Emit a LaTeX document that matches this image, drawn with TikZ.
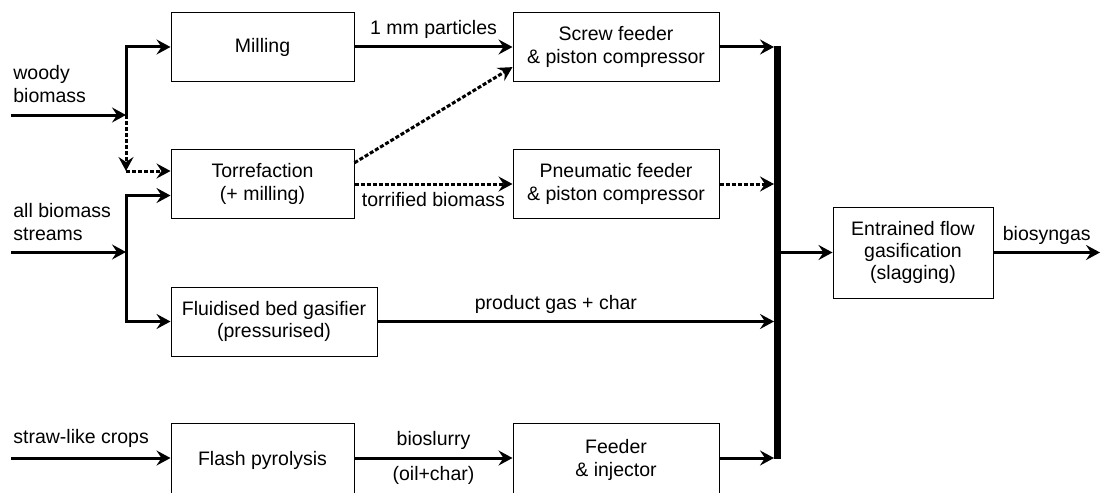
\documentclass[tikz,border=0pt]{standalone}
\usepackage{fontspec}
\setmainfont{Liberation Sans}
\usetikzlibrary{shapes,arrows,arrows.meta}
\tikzstyle{block} = [rectangle, draw, line width=0.5pt, text centered, align=center,
    minimum width=91.5pt, minimum height=34.5pt, inner sep=1pt]
\tikzstyle{feeder} = [block, minimum width=103pt]
\tikzstyle{line} = [draw, line width=1.5pt, -{Stealth[length=7pt, width=7.5pt, inset=2.5pt]}]
\tikzstyle{dline} = [line, dash pattern=on 2pt off 1pt]
\tikzstyle{bus} = [draw, line width=3.5pt]
\tikzstyle{stream} = [inner sep=0pt, align=left]

\begin{document}
\begin{tikzpicture}[x=0.5pt, y=-0.5pt, node distance=68.5pt, auto,
    font=\fontsize{9.75}{11.2}\selectfont]
	\useasboundingbox (0,0) rectangle (1106,492);

	\node [block] (milling) at (262.5,47) {Milling};
	\node [block, below of=milling] (torref) {Torrefaction\\(+ milling)};
	\node [feeder, right of=milling, node distance=176.75pt] (screw) {Screw feeder\\\& piston compressor};
	\node [feeder, below of=screw] (pneum) {Pneumatic feeder\\\& piston compressor};
	\node [feeder] (fluid) at (274,321.5) {Fluidised bed gasifier\\(pressurised)};
	\node [block, minimum height=37pt] (flash) at (262.5,460) {Flash pyrolysis};
	\node [feeder, minimum height=37pt, right of=flash, node distance=176.75pt] (inject) {Feeder\\\& injector};
	\node [block, minimum width=80pt, minimum height=45.5pt] (entrained) at (913,252.5) {Entrained flow\\gasification\\(slagging)};

	\node [stream, anchor=west] (woodytext) at (13,84) {woody\\biomass};
	\node [stream, anchor=west] (alltext) at (13,222) {all biomass\\streams};
	\node [stream, anchor=west] (strawtext) at (13,438) {straw-like crops};

	\coordinate (woodin) at (11,115);
	\coordinate (woody) at (126,115);
	\coordinate (dotin) at (126,171);
	\coordinate (allin) at (11,252);
	\coordinate (allbio) at (126,252);
	\coordinate (allup) at (126,195.5);
	\coordinate (strawin) at (11,458);
	\coordinate (bustop) at (777,46);
	\coordinate (busbot) at (777,459);
	\coordinate (busin) at (774,0);
	\coordinate (biosyn) at (1100,252.5);

	% inputs
	\path [line] (woodin) -- (woody);
	\path [line] (woody) |- (milling);
	\path [dline] (woody) -- (dotin);
	\path [dline] (dotin) -- (dotin -| torref.west);
	\path [line] (allin) -- (allbio);
	\path [line] (allbio) |- (allup -| torref.west);
	\path [line] (allbio) |- (fluid);
	\path [line] (strawin) -- (strawin -| flash.west);

	% pretreatment to feeding
	\path [line] (milling) -- node [above] {1 mm particles} (screw);
	\path [dline] (torref.13) -- (screw.191);
	\path [dline] (torref) -- node [below] {torrified biomass} (pneum);
	\path [line] (strawin -| flash.east) -- node [above] {bioslurry} node [below] {(oil+char)} (strawin -| inject.west);

	% to the gasifier
	\path [line] (screw) -- (screw -| busin);
	\path [dline] (pneum) -- (pneum -| busin);
	\path [line] (fluid) -- node [above, pos=0.45] {product gas + char} (fluid -| busin);
	\path [line] (strawin -| inject.east) -- (strawin -| busin);
	\draw [bus] (bustop) -- (busbot);
	\path [line] (entrained -| bustop) -- (entrained);
	\path [line] (entrained) -- node [above] {biosyngas} (biosyn);
\end{tikzpicture}
\end{document}
